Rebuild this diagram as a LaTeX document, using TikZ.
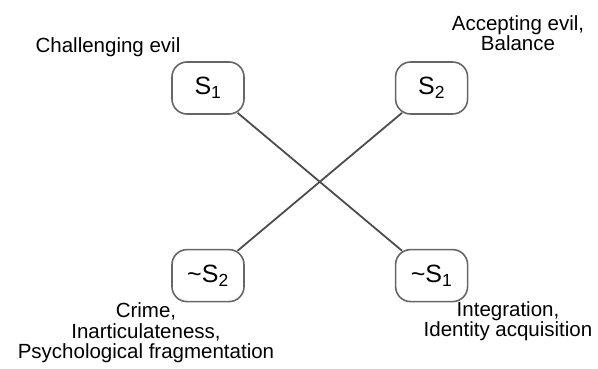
\documentclass[tikz,border=0pt]{standalone}
\usepackage{fontspec}
\setmainfont{Liberation Sans}
\usetikzlibrary{positioning}
\newcommand{\Sgn}[1]{S\textsubscript{#1}}
\tikzset{
    sbox/.style={draw=black!60, line width=1.6pt, rounded corners=15pt,
      minimum width=72pt, minimum height=52pt, inner sep=0pt,
      font=\fontsize{25}{25}\selectfont},
    tag/.style={align=center, font=\fontsize{20.5}{20.5}\selectfont},
    link/.style={draw=black!70, line width=1.8pt, shorten <=-3pt, shorten >=-3pt},
}
\begin{document}
\begin{tikzpicture}[x=1pt, y=1pt]
    \useasboundingbox (0,0) rectangle (598,-369);
    \tikzset{node distance=150pt and 150pt}

    \node[sbox] (s1) at (208,-88) {\Sgn{1}};
    \node[sbox, right=of s1] (s2) {\Sgn{2}};
    \node[sbox, below=134pt of s1] (ns2) {\char`~\Sgn{2}};
    \node[sbox, below=134pt of s2] (ns1) {\char`~\Sgn{1}};

    \draw[link] (s1) -- (ns1);
    \draw[link] (s2) -- (ns2);

    \node[tag] (t1) at (108,-47) {Challenging evil};
    \node[tag] (t2) at (518,-33) {Accepting evil,\\Balance};
    \node[tag] (t3) at (146,-333) {Crime,\\Inarticulateness,\\Psychological fragmentation};
    \node[tag] (t4) at (508,-321) {Integration,\\Identity acquisition};
  \end{tikzpicture}
\end{document}
